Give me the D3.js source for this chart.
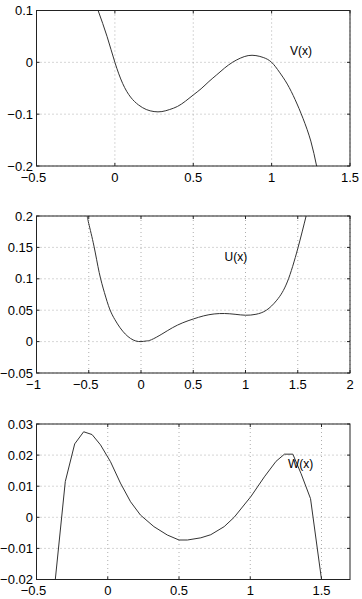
<!DOCTYPE html>
<html lang="en">
<head>
    <meta charset="utf-8">
    <script src="https://d3js.org/d3.v7.min.js"></script>
    <style>
        body {margin: 0; background: #fff;}
        svg text {font-family: "Liberation Sans", Arial, Helvetica, sans-serif; fill: #000;}
    </style>
</head>
<body>
    <svg id="chart" width="362" height="599"></svg>

    <script>
        // V(x) curve
        const vX = [-0.107, -0.05, 0, 0.05, 0.1, 0.15, 0.2, 0.25, 0.3, 0.35, 0.4, 0.45, 0.5, 0.55, 0.6, 0.65, 0.7, 0.75, 0.8, 0.85, 0.9, 0.95, 1.0, 1.05, 1.1, 1.15, 1.2, 1.25, 1.287];
        const vY = [0.1, 0.05, 0, -0.041, -0.067, -0.082, -0.091, -0.095, -0.095, -0.091, -0.085, -0.075, -0.063, -0.051, -0.037, -0.024, -0.011, 0, 0.008, 0.013, 0.013, 0.009, 0, -0.019, -0.042, -0.072, -0.108, -0.152, -0.2];

        // U(x) curve
        const uX = [-0.515, -0.5, -0.45, -0.4, -0.35, -0.3, -0.25, -0.2, -0.15, -0.1, -0.05, 0, 0.05, 0.1, 0.2, 0.3, 0.4, 0.5, 0.6, 0.7, 0.8, 0.9, 1.0, 1.1, 1.2, 1.3, 1.4, 1.5, 1.58];
        const uY = [0.2, 0.188, 0.152, 0.11, 0.078, 0.052, 0.035, 0.022, 0.012, 0.005, 0.001, 0, 0.001, 0.003, 0.012, 0.022, 0.03, 0.036, 0.041, 0.044, 0.0447, 0.0435, 0.042, 0.0435, 0.05, 0.066, 0.095, 0.148, 0.2];

        // W(x) curve (coarse, piecewise linear)
        const wX = [-0.368, -0.298, -0.232, -0.169, -0.11, -0.051, 0.019, 0.089, 0.16, 0.23, 0.324, 0.418, 0.5, 0.559, 0.653, 0.723, 0.817, 0.887, 1.005, 1.099, 1.181, 1.24, 1.299, 1.357, 1.423, 1.5];
        const wY = [-0.02, 0.0115, 0.0236, 0.0275, 0.0266, 0.0233, 0.0179, 0.011, 0.005, 0.0007, -0.003, -0.0057, -0.0073, -0.0073, -0.0066, -0.0056, -0.003, 0, 0.0067, 0.013, 0.018, 0.0203, 0.0203, 0.014, 0.006, -0.02];

        // axis ticks
        const vXTicks = [-0.5, 0, 0.5, 1, 1.5];
        const vYTicks = [-0.2, -0.1, 0, 0.1];
        const uXTicks = [-1, -0.5, 0, 0.5, 1, 1.5, 2];
        const uYTicks = [-0.05, 0, 0.05, 0.1, 0.15, 0.2];
        const wXTicks = [-0.5, 0, 0.5, 1, 1.5];
        const wYTicks = [-0.02, -0.01, 0, 0.01, 0.02, 0.03];

        const svg = d3.select("#chart");
        const left = 36.5, right = 350;

        const fmt = d => (d < 0 ? "\u2212" : "") + String(Math.abs(d));

        const panels = [
            {xs: vX, ys: vY, xd: [-0.5, 1.5], yd: [-0.2, 0.1], xt: vXTicks, yt: vYTicks,
             top: 10.5, bottom: 166, label: "V(x)", lx: 1.117, ly: 0.014, curve: d3.curveNatural},
            {xs: uX, ys: uY, xd: [-1, 2], yd: [-0.05, 0.2], xt: uXTicks, yt: uYTicks,
             top: 216, bottom: 373, label: "U(x)", lx: 0.80, ly: 0.128, curve: d3.curveNatural},
            {xs: wX, ys: wY, xd: [-0.5, 1.7], yd: [-0.02, 0.03], xt: wXTicks, yt: wYTicks,
             top: 424, bottom: 579.5, label: "W(x)", lx: 1.265, ly: 0.0159, curve: d3.curveLinear}
        ];

        panels.forEach((p, i) => {
            const x = d3.scaleLinear().domain(p.xd).range([left, right]);
            const y = d3.scaleLinear().domain(p.yd).range([p.bottom, p.top]);
            const g = svg.append("g");

            // grid
            g.selectAll(".gx").data(p.xt).join("line")
                .attr("x1", d => x(d)).attr("x2", d => x(d))
                .attr("y1", p.top).attr("y2", p.bottom)
                .attr("stroke", "#999").attr("stroke-width", 0.8)
                .attr("stroke-dasharray", "1,3");
            g.selectAll(".gy").data(p.yt).join("line")
                .attr("x1", left).attr("x2", right)
                .attr("y1", d => y(d)).attr("y2", d => y(d))
                .attr("stroke", "#999").attr("stroke-width", 0.8)
                .attr("stroke-dasharray", "1,3");

            // small inward ticks on all four sides
            const tl = 3;
            p.xt.forEach(d => {
                g.append("line").attr("x1", x(d)).attr("x2", x(d)).attr("y1", p.bottom).attr("y2", p.bottom - tl).attr("stroke", "#222");
                g.append("line").attr("x1", x(d)).attr("x2", x(d)).attr("y1", p.top).attr("y2", p.top + tl).attr("stroke", "#222");
            });
            p.yt.forEach(d => {
                g.append("line").attr("x1", left).attr("x2", left + tl).attr("y1", y(d)).attr("y2", y(d)).attr("stroke", "#222");
                g.append("line").attr("x1", right).attr("x2", right - tl).attr("y1", y(d)).attr("y2", y(d)).attr("stroke", "#222");
            });

            // curve, clipped to the axes box
            svg.append("clipPath").attr("id", "clip" + i)
                .append("rect").attr("x", left).attr("y", p.top)
                .attr("width", right - left).attr("height", p.bottom - p.top);

            const pts = p.xs.map((d, k) => [d, p.ys[k]]);
            g.append("path")
                .datum(pts)
                .attr("clip-path", "url(#clip" + i + ")")
                .attr("fill", "none")
                .attr("stroke", "#333")
                .attr("stroke-width", 1)
                .attr("d", d3.line().x(d => x(d[0])).y(d => y(d[1])).curve(p.curve));

            // box
            g.append("rect")
                .attr("x", left).attr("y", p.top)
                .attr("width", right - left).attr("height", p.bottom - p.top)
                .attr("fill", "none").attr("stroke", "#222").attr("stroke-width", 1);

            // tick labels
            g.selectAll(".tx").data(p.xt).join("text")
                .attr("x", d => x(d) - (d < 0 ? 3 : 0))
                .attr("y", p.bottom + 15.5)
                .attr("text-anchor", "middle")
                .attr("font-size", 13)
                .text(fmt);
            g.selectAll(".ty").data(p.yt).join("text")
                .attr("x", left - 3.5)
                .attr("y", d => y(d) + 4.5)
                .attr("text-anchor", "end")
                .attr("font-size", 13)
                .text(fmt);

            // curve label
            g.append("text")
                .attr("x", x(p.lx)).attr("y", y(p.ly))
                .attr("font-size", 12)
                .text(p.label);
        });
    </script>
</body>
</html>
